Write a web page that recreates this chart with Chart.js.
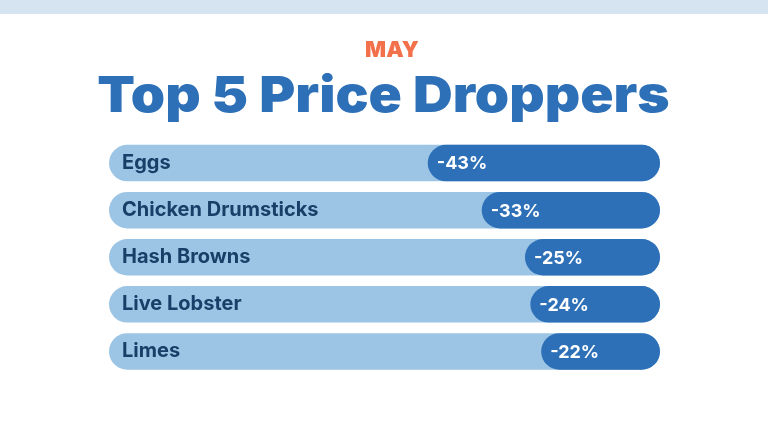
<!DOCTYPE html>
<html>
<head>
<meta charset="utf-8">
<script src="https://cdn.jsdelivr.net/npm/chart.js@4.4.1/dist/chart.umd.min.js"></script>
<style>
  html, body { margin: 0; padding: 0; background: #ffffff; }
  #wrap { position: relative; width: 768px; height: 447px; }
</style>
</head>
<body>
<div id="wrap"><canvas id="c"></canvas></div>
<script>
const monthLabel = 'MAY';
const chartTitle = 'Top 5 Price Droppers';
const categories = ['Eggs', 'Chicken Drumsticks', 'Hash Browns', 'Live Lobster', 'Limes'];
const priceChanges = [-43, -33, -25, -24, -22];
const trackValues = [-102, -102, -102, -102, -102];

const headerPlugin = {
  id: 'header',
  beforeDraw(chart) {
    const ctx = chart.ctx;
    ctx.save();
    ctx.fillStyle = '#d6e4f1';
    ctx.fillRect(0, 0, chart.width, 14);
    ctx.textAlign = 'center';
    ctx.textBaseline = 'alphabetic';
    ctx.fillStyle = '#f2704a';
    ctx.font = '900 22px Inter';
    ctx.fillText(monthLabel, 392, 57);
    ctx.translate(383.5, 112);
    ctx.scale(1.1, 1);
    ctx.fillStyle = '#2d70b7';
    ctx.font = '900 50px Inter';
    ctx.fillText(chartTitle, 0, 0);
    ctx.restore();
  }
};

const valueLabels = {
  id: 'valueLabels',
  afterDatasetsDraw(chart) {
    const ctx = chart.ctx;
    const meta = chart.getDatasetMeta(1);
    ctx.save();
    ctx.fillStyle = '#ffffff';
    ctx.font = '700 18px Inter';
    ctx.textAlign = 'left';
    ctx.textBaseline = 'middle';
    meta.data.forEach((bar, i) => {
      const left = Math.min(bar.x, bar.base);
      ctx.fillText(priceChanges[i] + '%', left + 9, bar.y + 1);
    });
    ctx.restore();
  }
};

new Chart(document.getElementById('c'), {
  type: 'bar',
  data: {
    labels: categories,
    datasets: [
      {
        label: 'track',
        data: trackValues,
        backgroundColor: '#9cc5e5',
        borderRadius: 30,
        borderSkipped: false,
        grouped: false,
        order: 2,
        categoryPercentage: 1,
        barPercentage: 0.775
      },
      {
        label: 'change',
        data: priceChanges,
        backgroundColor: '#2d70b7',
        borderRadius: 30,
        borderSkipped: false,
        grouped: false,
        order: 1,
        categoryPercentage: 1,
        barPercentage: 0.775
      }
    ]
  },
  options: {
    indexAxis: 'y',
    responsive: true,
    maintainAspectRatio: false,
    animation: false,
    layout: { padding: { left: 109, right: 108, bottom: 72, top: 139.5 } },
    scales: {
      x: { display: false, min: -102, max: 0 },
      y: {
        afterFit(scale) { scale.width = 0; },
        grid: { display: false },
        border: { display: false },
        ticks: {
          z: 1,
          mirror: true,
          padding: 13,
          color: '#173f67',
          font: { family: 'Inter', size: 20, weight: 700 }
        }
      }
    },
    plugins: {
      legend: { display: false },
      tooltip: { enabled: false },
      title: { display: false }
    }
  },
  plugins: [headerPlugin, valueLabels]
});
</script>
</body>
</html>
